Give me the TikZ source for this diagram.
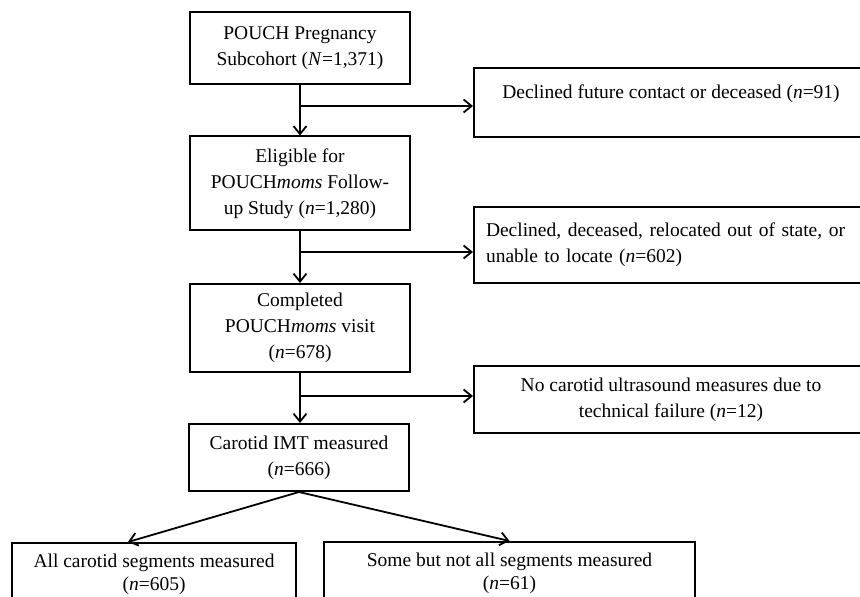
\documentclass[tikz,border=0pt]{standalone}
\usepackage{fontspec}
\setmainfont{Liberation Serif}
\usetikzlibrary{arrows.meta}
\begin{document}
\begin{tikzpicture}[x=0.5pt,y=-0.5pt,%
        every node/.style={font=\fontsize{9.75pt}{13pt}\selectfont},
        box/.style={draw=black,line width=1pt,align=center,inner sep=3pt,
          minimum width=110pt},
        sidebox/.style={draw=black,line width=1pt,align=center,inner sep=3pt,
          minimum width=197pt},
        arr/.style={-{Straight Barb[length=4pt,width=6.5pt]},line width=0.9pt}]%
        \useasboundingbox (0,0) rectangle (860,597);
        \node[box,minimum height=36pt] (pouch) at (300,48.5)
        {POUCH Pregnancy\\Subcohort (\textit{N}=1,371)};
        \node[box,minimum height=47pt] (eligible) at (300,183.5)
        {Eligible for\\POUCH\textit{moms} Follow-\\up Study (\textit{n}=1,280)};
        \node[box,minimum height=44pt] (visit) at (300,328)
        {Completed\\POUCH\textit{moms} visit\\(\textit{n}=678)};
        \node[box,minimum height=33.5pt] (imt) at (299,457.5)
        {Carotid IMT measured\\(\textit{n}=666)};
        \node[sidebox,minimum height=34.5pt] (declined) at (671,102.5)
        {Declined future contact or deceased (\textit{n}=91)\\[-6pt]\strut};
        \node[sidebox,minimum height=38pt,align=left,text width=185pt,
          inner xsep=6pt] (relocated) at (671,245)
        {Declined, deceased, relocated out of state, or\\unable to locate
          (\textit{n}=602)};
        \node[sidebox,minimum height=33.5pt] (nocarotid) at (671,399.5)
        {No carotid ultrasound measures due to\\technical failure
          (\textit{n}=12)};
        \node[box,minimum width=142pt,minimum height=31pt] (allseg) at
        (154,574) {All carotid segments measured\\[-1.5pt](\textit{n}=605)};
        \node[box,minimum width=185.5pt,minimum height=31pt] (someseg) at
        (509.5,573) {Some but not all segments measured\\[-1.5pt](\textit{n}=61)};
        \coordinate (b1) at (300,106); \coordinate (b2) at (300,252);
        \coordinate (b3) at (300,396);
        \draw[arr] (pouch) -- (eligible); \draw[arr] (eligible) -- (visit);
        \draw[arr] (visit.south) -- (visit.south |- imt.north);
        \draw[arr] (b1) -- (b1 -| declined.west);
        \draw[arr] (b2) -- (b2 -| relocated.west);
        \draw[arr] (b3) -- (b3 -| nocarotid.west);
        \draw[arr] (imt.south) -- ([xshift=-13pt]allseg.north);
        \draw[arr] (imt.south) -- (someseg.north);
      \end{tikzpicture}
\end{document}
